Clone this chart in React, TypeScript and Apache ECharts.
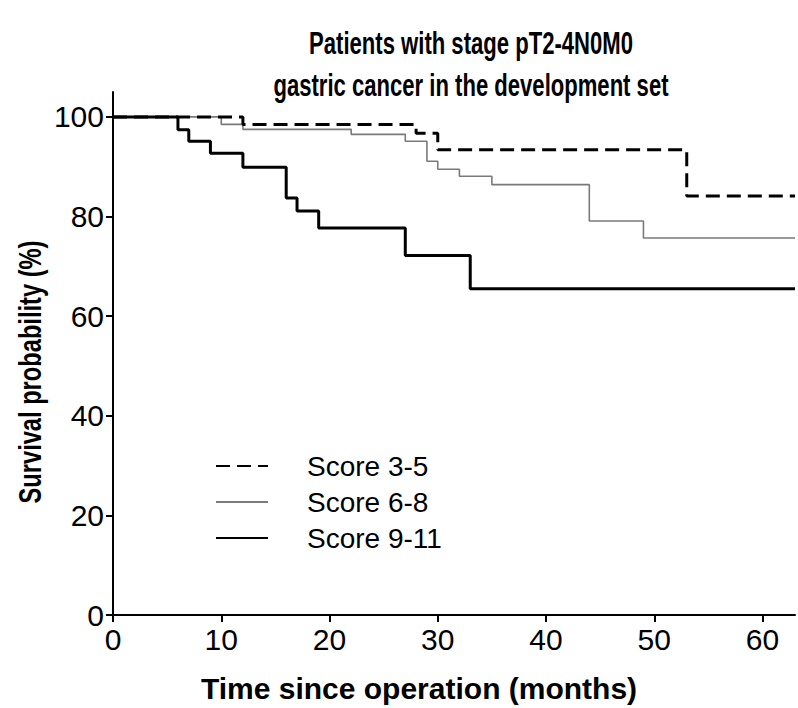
import React, { useEffect, useRef } from 'react';
import * as echarts from 'echarts';

const xTicks = [0, 10, 20, 30, 40, 50, 60];
const yTicks = [0, 20, 40, 60, 80, 100];

const seriesNames = ['Score 3-5', 'Score 6-8', 'Score 9-11'];

const score35Time = [0, 12, 28, 30, 53, 63];
const score35Surv = [100, 98.5, 96.7, 93.4, 84.1, 84.1];

const score68Time = [0, 10, 12, 22, 27, 29, 30, 32, 35, 44, 49, 63];
const score68Surv = [100, 98.5, 97.5, 96.5, 95.1, 91.1, 89.5, 88.1, 86.4, 79.1, 75.7, 75.7];

const score911Time = [0, 6, 7, 9, 12, 16, 17, 19, 27, 33, 63];
const score911Surv = [100, 97.4, 95.1, 92.7, 89.9, 83.7, 81.1, 77.7, 72.2, 65.5, 65.5];

const titleLines = ['Patients with stage pT2-4N0M0', 'gastric cancer in the development set'];
const xTitle = 'Time since operation (months)';
const yTitle = 'Survival probability (%)';

const zip = (t: number[], s: number[]) => t.map((v, i) => [v, s[i]]);

const SANS = '"Liberation Sans", Arial, sans-serif';

export default function App() {
  const ref = useRef<HTMLDivElement>(null);
  useEffect(() => {
    if (!ref.current) return;
    const chart = echarts.init(ref.current, null, { renderer: 'svg' });
    chart.setOption({
      animation: false,
      backgroundColor: '#fff',
      graphic: [
        {
          type: 'text',
          x: 471,
          y: 22,
          scaleX: 0.69,
          style: {
            text: titleLines.join('\n'),
            font: `bold 32px ${SANS}`,
            textAlign: 'center',
            fill: '#000',
            lineHeight: 42,
          },
        },
        {
          type: 'text',
          x: 30,
          y: 372,
          rotation: Math.PI / 2,
          scaleX: 0.74,
          style: {
            text: yTitle,
            font: `bold 32px ${SANS}`,
            textAlign: 'center',
            textVerticalAlign: 'middle',
            fill: '#000',
          },
        },
      ],
      legend: {
        orient: 'vertical',
        left: 215,
        top: 452,
        itemWidth: 52,
        itemHeight: 14,
        itemGap: 8,
        padding: 0,
        data: seriesNames,
        itemStyle: { opacity: 0 },
        textStyle: { fontSize: 28, color: '#000', fontFamily: SANS, padding: [0, 0, 0, 34] },
      },
      grid: { left: 113, right: 3, top: 92, bottom: 91 },
      xAxis: {
        type: 'value',
        min: 0,
        max: 63,
        name: xTitle,
        nameLocation: 'middle',
        nameGap: 58,
        nameTextStyle: {
          fontSize: 30,
          fontWeight: 'bold',
          color: '#000',
          fontFamily: SANS,
          padding: [0, 70, 0, 0],
        },
        axisLine: { lineStyle: { color: '#000', width: 2 } },
        axisTick: { customValues: xTicks, length: 7, lineStyle: { color: '#000', width: 2 } },
        axisLabel: { customValues: xTicks, fontSize: 30, color: '#000', fontFamily: SANS, margin: 9 },
        splitLine: { show: false },
      },
      yAxis: {
        type: 'value',
        min: 0,
        max: 105,
        axisLine: { lineStyle: { color: '#000', width: 2 } },
        axisTick: { customValues: yTicks, length: 7, lineStyle: { color: '#000', width: 2 } },
        axisLabel: { customValues: yTicks, fontSize: 30, color: '#000', fontFamily: SANS, margin: 9 },
        splitLine: { show: false },
      },
      series: [
        {
          name: seriesNames[0],
          type: 'line',
          step: 'end',
          symbol: 'none',
          z: 3,
          data: zip(score35Time, score35Surv),
          lineStyle: { color: '#000', width: 3, type: [14, 7] },
          itemStyle: { color: '#000' },
        },
        {
          name: seriesNames[1],
          type: 'line',
          step: 'end',
          symbol: 'none',
          z: 2,
          data: zip(score68Time, score68Surv),
          lineStyle: { color: '#7a7a7a', width: 1.6 },
          itemStyle: { color: '#7a7a7a' },
        },
        {
          name: seriesNames[2],
          type: 'line',
          step: 'end',
          symbol: 'none',
          z: 4,
          data: zip(score911Time, score911Surv),
          lineStyle: { color: '#000', width: 3 },
          itemStyle: { color: '#000' },
        },
      ],
    });
    return () => chart.dispose();
  }, []);
  return (
    <div
      ref={ref}
      style={{ position: 'absolute', left: 0, top: 0, width: 798, height: 708 }}
    />
  );
}
